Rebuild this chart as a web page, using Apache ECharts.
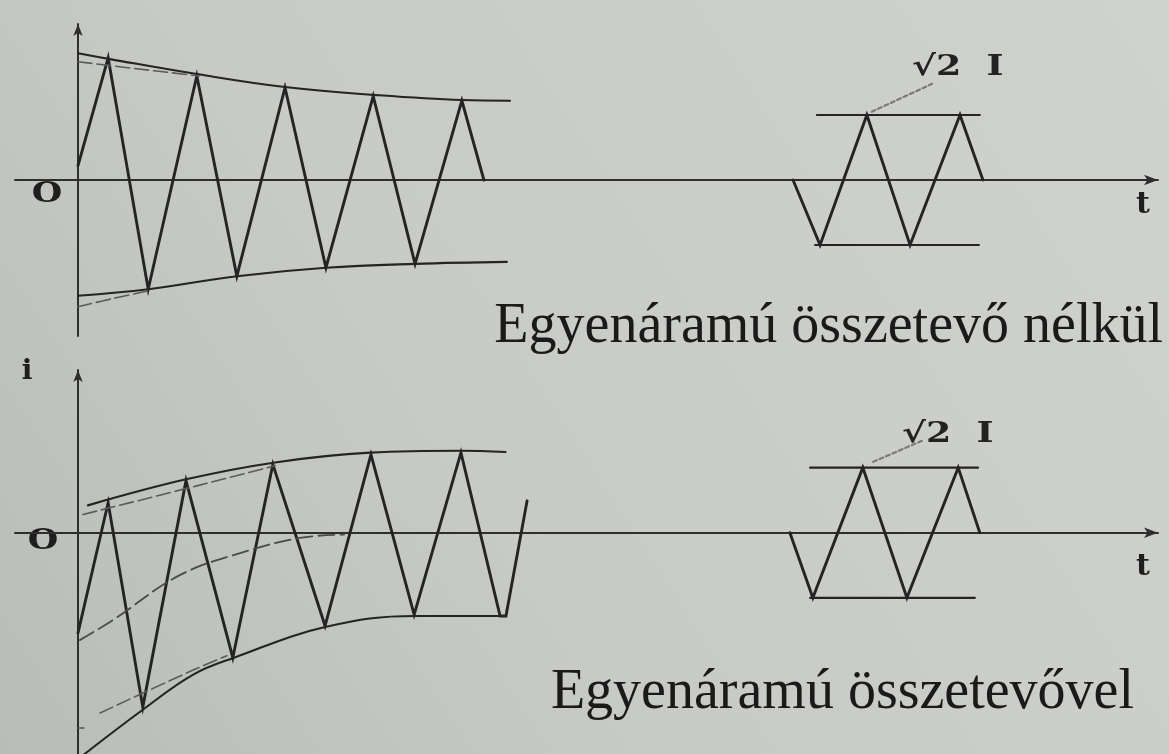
<!DOCTYPE html>
<html>
<head>
<meta charset="utf-8">
<script src="https://cdn.jsdelivr.net/npm/echarts@6/dist/echarts.min.js"></script>
<style>
  html, body { margin: 0; padding: 0; background: #c8cbc6; }
  #chart { width: 1169px; height: 754px; }
</style>
</head>
<body>
<div id="chart"></div>
<script>
// Short-circuit current, time in ms (50 Hz, 20 ms period), current normalised to the
// steady-state peak value sqrt(2)*I = 1.

// ---- Upper diagram: without DC component ----
const noDcWaveT = [0, 6.7, 15.6, 26.4, 35.3, 46.0, 55.1, 65.6, 74.9, 85.3, 90.2];
const noDcWaveI = [0.22, 1.88, -1.68, 1.60, -1.48, 1.42, -1.35, 1.29, -1.29, 1.22, 0];

const noDcUpperEnvT = [0, 7.1, 26.4, 46.0, 65.6, 85.3, 96.0];
const noDcUpperEnvI = [1.95, 1.86, 1.63, 1.43, 1.31, 1.23, 1.22];
const noDcUpperEnv2T = [0, 12, 27];
const noDcUpperEnv2I = [1.82, 1.72, 1.60];

const noDcLowerEnvT = [0, 15.6, 35.3, 55.1, 74.9, 95.3];
const noDcLowerEnvI = [-1.78, -1.68, -1.48, -1.35, -1.29, -1.26];
const noDcLowerEnv2T = [0, 8, 16];
const noDcLowerEnv2I = [-1.95, -1.82, -1.70];

const noDcSteadyT = [158.9, 164.9, 175.3, 184.9, 196.0, 201.1];
const noDcSteadyI = [0, -1, 1, -1, 1, 0];
const noDcPeakLevelT = [164.2, 200.4];
const noDcTroughLevelT = [163.8, 200.2];
const noDcLeaderT = [176.4, 189.8];
const noDcLeaderI = [1.05, 1.48];

// ---- Lower diagram: with DC component ----
const dcWaveT = [0, 6.7, 14.4, 24.0, 34.4, 43.3, 54.9, 65.1, 74.7, 85.1, 93.8, 95.1, 99.8];
const dcWaveI = [-1.54, 0.46, -2.68, 0.80, -1.92, 1.05, -1.43, 1.20, -1.26, 1.23, -1.28, -1.28, 0.49];

const dcUpperEnvT = [2.2, 24.0, 43.8, 64.9, 85.1, 95.0];
const dcUpperEnvI = [0.42, 0.82, 1.08, 1.23, 1.26, 1.24];
const dcUpperEnv2T = [1.1, 26.4, 43.8];
const dcUpperEnv2I = [0.28, 0.72, 1.03];

const dcDecayT = [0.4, 7.8, 22.4, 36.2, 49.3, 59.1];
const dcDecayI = [-1.65, -1.34, -0.66, -0.31, -0.08, -0.03];

const dcLowerEnvT = [0.9, 14.4, 25.6, 34.7, 54.9, 74.9, 94.9];
const dcLowerEnvI = [-3.43, -2.72, -2.18, -1.92, -1.45, -1.28, -1.28];
const dcLowerEnv2T = [4.9, 25.6, 33.1];
const dcLowerEnv2I = [-2.77, -2.11, -1.89];

const dcStartTickT = [0, 1.3];
const dcStartTickI = [-3.0, -3.0];

const dcSteadyT = [158.2, 163.3, 174.4, 184.2, 195.6, 200.4];
const dcSteadyI = [0, -1, 1, -1, 1, 0];
const dcPeakLevelT = [162.7, 200.0];
const dcTroughLevelT = [162.7, 199.3];
const dcLeaderT = [176.7, 187.8];
const dcLeaderI = [1.09, 1.42];

const steadyPeak = 1;

// ---- texts ----
const captionNoDc = 'Egyenáramú összetevő nélkül';
const captionDc = 'Egyenáramú összetevővel';
const peakLabel = '√2  I';
const originLabel = 'O';
const timeLabel = 't';
const currentLabel = 'i';

const pts = (ts, vs) => ts.map((t, k) => [t, vs[k]]);
const flat = (ts, v) => ts.map(t => [t, v]);

const INK = '#242424';

function line(gridIdx, data, opts) {
  opts = opts || {};
  return {
    type: 'line',
    xAxisIndex: gridIdx,
    yAxisIndex: gridIdx,
    data: data,
    showSymbol: false,
    symbol: 'none',
    silent: true,
    animation: false,
    smooth: opts.smooth || false,
    clip: true,
    z: opts.z || 3,
    lineStyle: {
      color: opts.color || INK,
      width: opts.width || 2.6,
      type: opts.type || 'solid',
      cap: 'round',
      join: 'miter'
    }
  };
}

const wave = { width: 2.9 };
const env = { width: 2.1, smooth: 0.4 };
const env2 = { width: 1.6, smooth: 0.4, color: '#5a5a5a', type: [14, 5] };
const level = { width: 2.2 };
const leader = { width: 2.2, color: '#7a7a7a', type: [4, 3] };

const axisCommonX = {
  type: 'value',
  min: -14,
  max: 240,
  splitLine: { show: false },
  axisTick: { show: false },
  axisLabel: { show: false },
  axisLine: {
    show: true,
    onZero: true,
    symbol: ['none', 'arrow'],
    symbolSize: [8, 14],
    lineStyle: { color: '#2e2e2e', width: 2 }
  }
};
function yAxisFor(min, max) {
  return {
    type: 'value',
    min: min,
    max: max,
    splitLine: { show: false },
    axisTick: { show: false },
    axisLabel: { show: false },
    axisLine: {
      show: true,
      onZero: true,
      symbol: ['none', 'arrow'],
      symbolSize: [7, 12],
      lineStyle: { color: '#2e2e2e', width: 2 }
    }
  };
}

const chart = echarts.init(document.getElementById('chart'), null, { renderer: 'canvas' });

const serif = '"Liberation Serif", "Times New Roman", serif';
const boldSerif = '"DejaVu Serif", "Liberation Serif", serif';

chart.setOption({
  animation: false,
  backgroundColor: {
    type: 'linear', x: 1, y: 0, x2: 0, y2: 1,
    colorStops: [
      { offset: 0, color: '#cfd2cd' },
      { offset: 0.6, color: '#c7cac5' },
      { offset: 1, color: '#b9bdb7' }
    ]
  },
  grid: [
    { left: 15, width: 1143, top: 24, height: 312, outerBoundsMode: 'none' },
    { left: 15, width: 1143, top: 370, height: 384, outerBoundsMode: 'none' }
  ],
  xAxis: [
    Object.assign({ gridIndex: 0 }, axisCommonX),
    Object.assign({ gridIndex: 1 }, axisCommonX)
  ],
  yAxis: [
    Object.assign({ gridIndex: 0 }, yAxisFor(-2.4, 2.4)),
    Object.assign({ gridIndex: 1 }, yAxisFor(-3.4, 2.5))
  ],
  series: [
    // upper diagram
    line(0, pts(noDcWaveT, noDcWaveI), wave),
    line(0, pts(noDcUpperEnvT, noDcUpperEnvI), env),
    line(0, pts(noDcUpperEnv2T, noDcUpperEnv2I), env2),
    line(0, pts(noDcLowerEnvT, noDcLowerEnvI), env),
    line(0, pts(noDcLowerEnv2T, noDcLowerEnv2I), env2),
    line(0, pts(noDcSteadyT, noDcSteadyI), wave),
    line(0, flat(noDcPeakLevelT, steadyPeak), level),
    line(0, flat(noDcTroughLevelT, -steadyPeak), level),
    line(0, pts(noDcLeaderT, noDcLeaderI), leader),
    // lower diagram
    line(1, pts(dcWaveT, dcWaveI), wave),
    line(1, pts(dcUpperEnvT, dcUpperEnvI), env),
    line(1, pts(dcUpperEnv2T, dcUpperEnv2I), env2),
    line(1, pts(dcDecayT, dcDecayI), { width: 1.8, smooth: 0.4, color: '#4a4a4a', type: [16, 6] }),
    line(1, pts(dcLowerEnvT, dcLowerEnvI), env),
    line(1, pts(dcLowerEnv2T, dcLowerEnv2I), env2),
    line(1, pts(dcStartTickT, dcStartTickI), { width: 1.6, color: '#555' }),
    line(1, pts(dcSteadyT, dcSteadyI), wave),
    line(1, flat(dcPeakLevelT, steadyPeak), level),
    line(1, flat(dcTroughLevelT, -steadyPeak), level),
    line(1, pts(dcLeaderT, dcLeaderI), leader)
  ],
  graphic: [
    { type: 'text', x: 1163, y: 327, style: { text: captionNoDc, font: '56px ' + serif, fill: '#1a1a1a', textAlign: 'right', textVerticalAlign: 'middle' } },
    { type: 'text', x: 1134, y: 693, style: { text: captionDc, font: '56px ' + serif, fill: '#1a1a1a', textAlign: 'right', textVerticalAlign: 'middle' } },
    { type: 'text', x: 912, y: 68, scaleX: 1.3, style: { text: peakLabel, font: 'bold 28px ' + boldSerif, fill: '#222', textAlign: 'left', textVerticalAlign: 'middle' } },
    { type: 'text', x: 902, y: 435, scaleX: 1.3, style: { text: peakLabel, font: 'bold 28px ' + boldSerif, fill: '#222', textAlign: 'left', textVerticalAlign: 'middle' } },
    { type: 'text', x: 47, y: 195, scaleX: 1.25, style: { text: originLabel, font: 'bold 28px ' + boldSerif, fill: '#1e1e1e', textAlign: 'center', textVerticalAlign: 'middle' } },
    { type: 'text', x: 43, y: 542, scaleX: 1.25, style: { text: originLabel, font: 'bold 28px ' + boldSerif, fill: '#1e1e1e', textAlign: 'center', textVerticalAlign: 'middle' } },
    { type: 'text', x: 1143, y: 205, style: { text: timeLabel, font: 'bold 30px ' + boldSerif, fill: '#1e1e1e', textAlign: 'center', textVerticalAlign: 'middle' } },
    { type: 'text', x: 1143, y: 567, style: { text: timeLabel, font: 'bold 30px ' + boldSerif, fill: '#1e1e1e', textAlign: 'center', textVerticalAlign: 'middle' } },
    { type: 'text', x: 27, y: 372, style: { text: currentLabel, font: 'bold 28px ' + boldSerif, fill: '#1e1e1e', textAlign: 'center', textVerticalAlign: 'middle' } }
  ]
});
</script>
</body>
</html>
